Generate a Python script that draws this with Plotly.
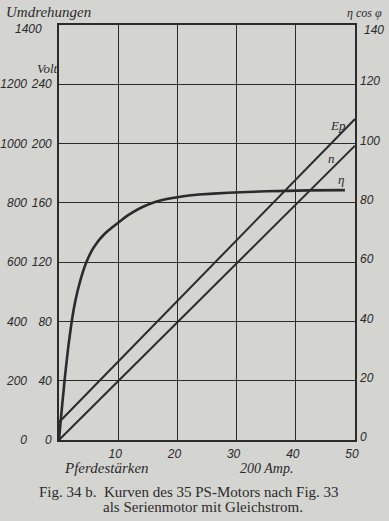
import plotly.graph_objects as go

# ---------------- data ----------------
ps_ticks = [10, 20, 30, 40, 50]                      # Pferdestärken
rpm_ticks = [0, 200, 400, 600, 800, 1000, 1200, 1400]  # Umdrehungen
volt_ticks = [0, 40, 80, 120, 160, 200, 240]           # Volt
eta_ticks = [0, 20, 40, 60, 80, 100, 120, 140]         # η cos φ scale

# curves in units of the right-hand scale (0..140)
ep_x = [0, 50]
ep_y = [6, 108.3]
n_x = [0, 50]
n_y = [0, 99.3]
eta_x = [0, 0.3, 0.57, 1.0, 1.57, 2.12, 2.78, 3.62, 4.57, 5.57, 6.3, 7.0, 7.9, 8.9, 10.0, 11.2, 12.5, 14.2, 16.1, 18, 20, 23.6, 28.6, 35, 42, 48.3]
eta_y = [0, 6.8, 12.4, 21.3, 31.4, 39.6, 47.1, 53.9, 59.7, 64, 66.2, 68, 69.9, 71.6, 73.3, 75.2, 76.9, 78.7, 80.2, 81.2, 81.9, 82.8, 83.4, 83.9, 84.2, 84.3]

# ---------------- style ----------------
BG = "#d4d4d1"
INK = "#2b2b2b"
HAND = dict(family="Liberation Sans", size=12, color=INK, style="italic")

W, H = 389, 521
ML, MR, MT, MB = 0, 34, 25, 81
pw = W - ML - MR
x0 = 59 / pw

fig = go.Figure()
line_style = dict(color=INK, width=2)
fig.add_trace(go.Scatter(x=ep_x, y=ep_y, mode="lines", line=line_style, hoverinfo="skip"))
fig.add_trace(go.Scatter(x=n_x, y=n_y, mode="lines", line=line_style, hoverinfo="skip"))
fig.add_trace(go.Scatter(x=eta_x, y=eta_y, mode="lines",
                         line=dict(color=INK, width=2.6, shape="spline", smoothing=0.3), hoverinfo="skip"))
# dummy traces to activate extra axes
fig.add_trace(go.Scatter(x=[None], y=[None], yaxis="y2", showlegend=False))
fig.add_trace(go.Scatter(x=[None], y=[None], yaxis="y3", showlegend=False))

fig.update_layout(
    width=W, height=H,
    margin=dict(l=ML, r=MR, t=MT, b=MB),
    paper_bgcolor=BG, plot_bgcolor=BG,
    showlegend=False,
    xaxis=dict(domain=[x0, 1], range=[0, 50], tickvals=ps_ticks, ticktext=[str(v) for v in ps_ticks],
               showgrid=True, gridcolor=INK, gridwidth=1.2, zeroline=False,
               showline=True, linecolor=INK, linewidth=1.6, mirror=True,
               ticks="", tickfont=HAND, ticklabelstandoff=2, ticklabelshift=-3),
    yaxis=dict(range=[0, 140], tickvals=[v / 2 for v in volt_ticks], ticktext=[str(v) for v in volt_ticks],
               showgrid=True, gridcolor=INK, gridwidth=1.2, zeroline=False,
               showline=True, linecolor=INK, linewidth=1.6, mirror=True,
               ticks="", tickfont=HAND, ticklabelstandoff=3),
    yaxis2=dict(range=[0, 140], overlaying="y", side="right", tickvals=eta_ticks[:-1],
                ticktext=[str(v) for v in eta_ticks[:-1]], showgrid=False, zeroline=False,
                ticks="", tickfont=HAND, ticklabelstandoff=4, ticklabelshift=-3),
    yaxis3=dict(range=[0, 140], overlaying="y", side="left", anchor="free", position=27 / pw,
                tickvals=[v / 10 for v in rpm_ticks[:-1]], ticktext=[str(v) for v in rpm_ticks[:-1]],
                showgrid=False, zeroline=False, showline=False, ticks="", tickfont=HAND,
                ticklabelstandoff=0),
)

ann = []
def A(text, x, y, xref="paper", yref="paper", size=12, xanchor="center", family="Liberation Sans", style="italic"):
    ann.append(dict(text=text, x=x, y=y, xref=xref, yref=yref, showarrow=False, xanchor=xanchor,
                    yanchor="middle", font=dict(family=family, size=size, color=INK, style=style)))

def px(xp):
    return (xp - ML) / pw
def py(yp):
    return 1 - (yp - MT) / (H - MT - MB)

A("Umdrehungen", px(4), py(12), size=15, xanchor="left", family="Liberation Serif")
A("1400", px(13), py(29), xanchor="left")
A("Volt", px(35), py(69), size=13, xanchor="left", family="Liberation Serif")
A("η cos φ", px(345), py(13), size=12, xanchor="left", family="Liberation Serif")
A("140", px(362), py(30), xanchor="left")
A("Pferdestärken", px(62), py(468), size=15, xanchor="left", family="Liberation Serif")
A("200 Amp.", px(238), py(468), size=14, xanchor="left", family="Liberation Serif")
A("Ep", 47.1, 106.2, xref="x", yref="y", size=13, family="Liberation Serif")
A("n", 46.1, 95.1, xref="x", yref="y", size=13, family="Liberation Serif")
A("η", 47.6, 87.8, xref="x", yref="y", size=13, family="Liberation Serif")
A("Fig. 34 b.  Kurven des 35 PS-Motors nach Fig. 33", px(189), py(492), size=15,
  family="Liberation Serif", style="normal")
A("als Serienmotor mit Gleichstrom.", px(203), py(507), size=15,
  family="Liberation Serif", style="normal")
fig.update_layout(annotations=ann)

fig.write_html("out.html")
